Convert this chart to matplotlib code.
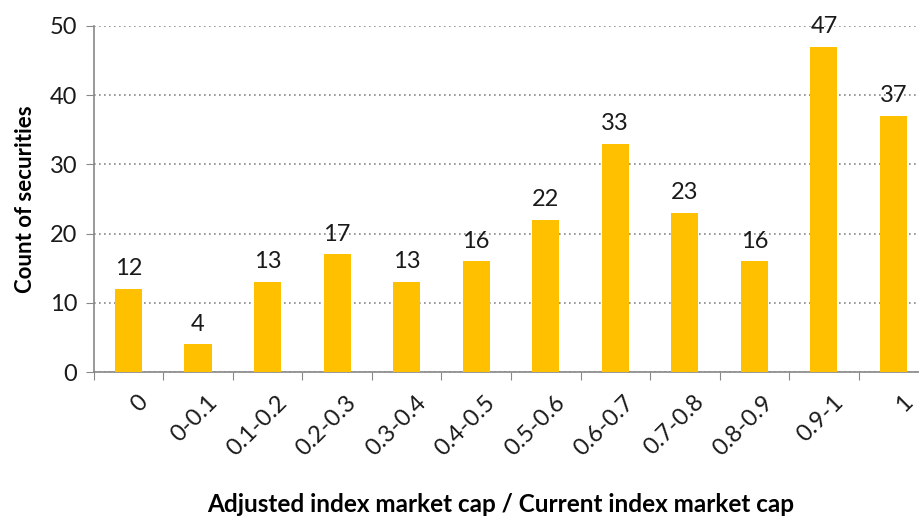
import matplotlib.pyplot as plt

categories = ['0', '0-0.1', '0.1-0.2', '0.2-0.3', '0.3-0.4', '0.4-0.5',
              '0.5-0.6', '0.6-0.7', '0.7-0.8', '0.8-0.9', '0.9-1', '1']
counts = [12, 4, 13, 17, 13, 16, 22, 33, 23, 16, 47, 37]

plt.rcParams['font.family'] = ['Lato', 'DejaVu Sans']

fig = plt.figure(figsize=(9.19, 5.16), dpi=100)
ax = fig.add_axes([0.102, 0.279, 0.908, 0.671])

x = range(len(categories))
ax.bar(x, counts, width=0.39, color='#FFC000', zorder=3)
for i, v in zip(x, counts):
    ax.annotate(str(v), (i, v), xytext=(0, 7), textcoords='offset points',
                ha='center', va='bottom', fontsize=17, color='#1a1a1a', zorder=4)

ax.set_xlim(-0.5, len(categories) - 0.5)
ax.set_ylim(0, 50)
ax.set_yticks(range(0, 51, 10))
ax.yaxis.grid(True, linestyle=(0, (1, 2)), color='#888888', linewidth=1.2, zorder=0)

ax.set_xticks([i - 0.5 for i in range(len(categories))], minor=False)
ax.set_xticklabels([])
ax.set_xticks([i + 0.12 for i in x], minor=True)
ax.set_xticklabels(categories, minor=True, rotation=45, ha='right',
                   rotation_mode='anchor', fontsize=17, color='#1a1a1a')
ax.tick_params(axis='x', which='minor', length=0, pad=14)
ax.tick_params(axis='x', which='major', length=6, color='#888888', direction='out')
ax.tick_params(axis='y', length=6, color='#888888', labelsize=17, labelcolor='#1a1a1a', pad=6)

for s in ['top', 'right']:
    ax.spines[s].set_visible(False)
for s in ['left', 'bottom']:
    ax.spines[s].set_color('#888888')
    ax.spines[s].set_linewidth(1.2)

ax.set_ylabel('Count of securities', fontsize=16, fontweight='bold', labelpad=10)
fig.text(0.545, 0.0, 'Adjusted index market cap / Current index market cap',
         ha='center', va='bottom', fontsize=17.5, fontweight='bold')

fig.savefig('out.png', dpi=100)
